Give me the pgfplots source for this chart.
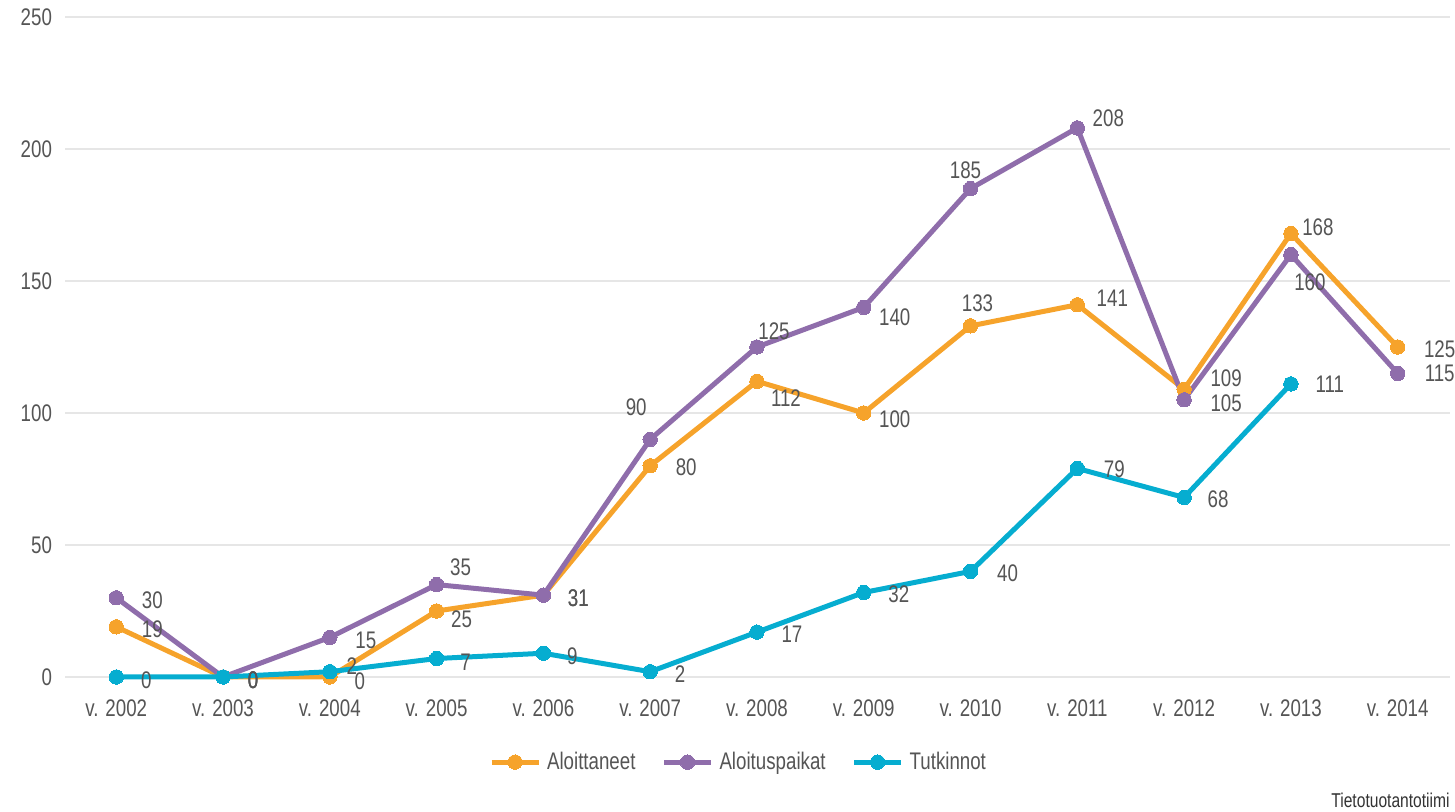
\documentclass[border=0pt]{standalone}
\usepackage{pgfplots}
\usepackage{pgfplotstable}
\pgfplotsset{compat=1.18}
\usepackage{fontspec}
\setmainfont{Liberation Sans}[FakeStretch=0.78]
\definecolor{corange}{HTML}{F6A32B}
\definecolor{cpurple}{HTML}{8F6DAB}
\definecolor{ccyan}{HTML}{06ADD0}
\definecolor{ctext}{HTML}{555555}
\definecolor{cgrid}{HTML}{E6E6E6}

\pgfplotstableread{
x y
0 19
1 0
2 0
3 25
4 31
5 80
6 112
7 100
8 133
9 141
10 109
11 168
12 125
}\dataA
\pgfplotstableread{
x y
0 30
1 0
2 15
3 35
4 31
5 90
6 125
7 140
8 185
9 208
10 105
11 160
12 115
}\dataB
\pgfplotstableread{
x y
0 0
1 0
2 2
3 7
4 9
5 2
6 17
7 32
8 40
9 79
10 68
11 111
}\dataC

% labels: x y dx dy (pt, label centre relative to point)
\pgfplotstableread{
x y dx dy lab
0 19 18 -1 19
1 0 15 -1.5 0
2 0 15 -2 0
3 25 12.5 -4 25
4 31 17.5 -1.5 31
5 80 18 -0.5 80
6 112 14.5 -8.5 112
7 100 15.5 -3 100
8 133 3.5 11.5 133
9 141 17.5 3.5 141
10 109 21 5.5 109
11 168 13.5 3 168
12 125 21 -1 125
}\labA
\pgfplotstableread{
x y dx dy lab
0 30 18 -1 30
1 0 15 -1.5 0
2 15 18 -1.5 15
3 35 12 8.5 35
4 31 17.5 -1.5 31
5 90 -7 16 90
6 125 8.5 8 125
7 140 15.5 -5 140
8 185 -2.5 9 185
9 208 15.5 5 208
10 105 21 -1.5 105
11 160 9.5 -14 160
12 115 21 0 115
}\labB
\pgfplotstableread{
x y dx dy lab
0 0 15 -1.5 0
1 0 15 -1.5 0
2 2 11 3 2
3 7 14.5 -2 7
4 9 14.5 -1.5 9
5 2 15 -1 2
6 17 17.5 -1 17
7 32 17.5 -1 32
8 40 18.5 -1 40
9 79 18.5 -0.5 79
10 68 17 -1 68
11 111 19.5 0 111
}\labC

\pgfplotsset{
  vlabels/.style={
    draw=none, mark=none, forget plot,
    nodes near coords,
    point meta=explicit symbolic,
    visualization depends on={\thisrow{dx} \as \dx},
    visualization depends on={\thisrow{dy} \as \dy},
    every node near coord/.style={anchor=center, xshift=\dx pt, yshift=\dy pt,
      text=ctext, font=\fontsize{12}{14}\selectfont, inner sep=0pt},
  },
  ser/.style={line width=2.5pt, color=#1, mark=*, mark size=3.6pt,
    mark options={solid, fill=#1, draw=#1, line width=0pt}},
}

\begin{document}
\begin{tikzpicture}
\begin{axis}[
  scale only axis,
  width=692.5pt, height=330pt,
  xmin=-0.48, xmax=12.49,
  ymin=0, ymax=250,
  ytick={0,50,100,150,200,250},
  xtick={0,...,12},
  xticklabels={v. 2002,v. 2003,v. 2004,v. 2005,v. 2006,v. 2007,v. 2008,v. 2009,v. 2010,v. 2011,v. 2012,v. 2013,v. 2014},
  axis line style={draw=none},
  major tick length=0pt,
  ymajorgrids,
  grid style={cgrid, line width=1pt},
  tick label style={text=ctext, font=\fontsize{12}{14}\selectfont},
  /pgf/number format/assume math mode=true,
  yticklabel style={xshift=-3pt},
  xticklabel style={yshift=-8pt},
  clip=false,
  legend columns=3,
  legend style={draw=none, at={(0.487,-0.129)}, anchor=center,
    font=\fontsize{12}{14}\selectfont, text=ctext,
    /tikz/every even column/.append style={column sep=11pt},
    /tikz/every odd column/.append style={column sep=1pt}},
  legend image code/.code={
    \draw[#1, mark=none] (0pt,0pt) -- (23.5pt,0pt);
    \draw[#1, line width=0pt] plot coordinates {(11.75pt,0pt)};
  },
]
\addplot[ser=corange] table[x=x,y=y] {\dataA};
\addlegendentry{Aloittaneet}
\addplot[ser=cpurple] table[x=x,y=y] {\dataB};
\addlegendentry{Aloituspaikat}
\addplot[ser=ccyan] table[x=x,y=y] {\dataC};
\addlegendentry{Tutkinnot}

\addplot[vlabels] table[x=x,y=y,meta=lab] {\labA};
\addplot[vlabels] table[x=x,y=y,meta=lab] {\labB};
\addplot[vlabels] table[x=x,y=y,meta=lab] {\labC};
\end{axis}
\node[anchor=east, text=black!80, font=\fontsize{10}{12}\selectfont, inner sep=0pt]
  at ([yshift=-61.5pt]current axis.south east) {Tietotuotantotiimi};
\pgfresetboundingbox
\path[use as bounding box] ([shift={(-32.5pt,-67.5pt)}]current axis.south west)
  rectangle ([shift={(2.5pt,8.5pt)}]current axis.north east);
\end{tikzpicture}
\end{document}
